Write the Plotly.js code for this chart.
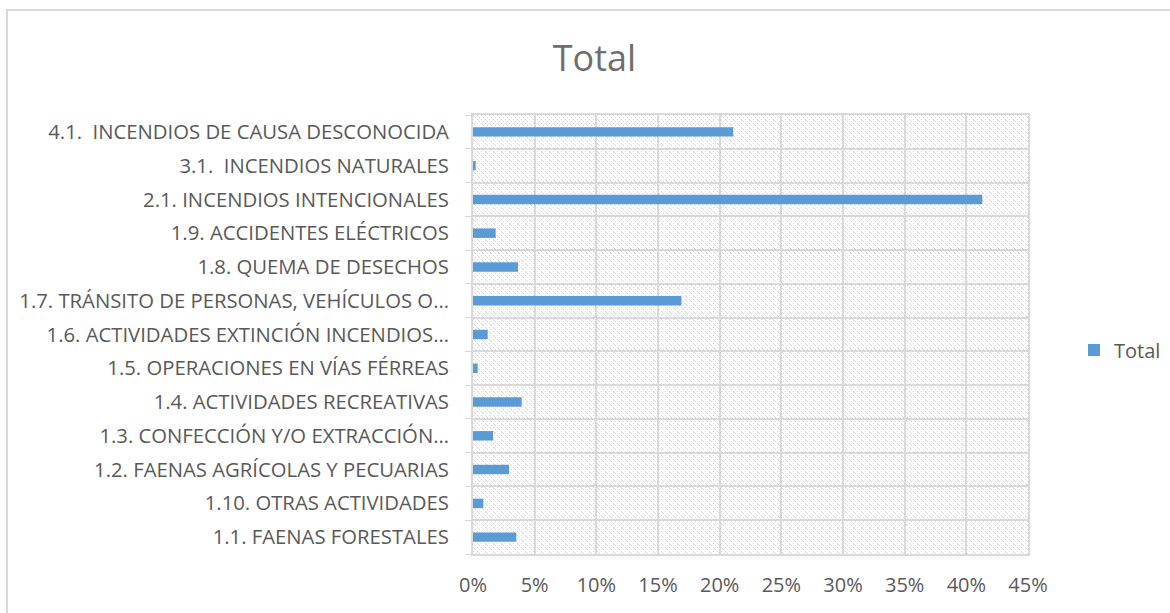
<!DOCTYPE html>
<html>
<head>
<meta charset="utf-8">
<script src="https://cdn.plot.ly/plotly-3.0.1.min.js"></script>
<style>
html,body{margin:0;padding:0;background:#fff;}
#wrap{position:relative;width:1170px;height:613px;overflow:hidden;}
#frame{position:absolute;left:6px;top:9px;width:1200px;height:700px;border-left:2px solid #d9d9d9;border-top:2px solid #d9d9d9;pointer-events:none;z-index:5;}
#chart{position:absolute;left:0;top:0;width:1170px;height:613px;}
</style>
</head>
<body>
<div id="wrap"><div id="chart"></div><div id="frame"></div></div>
<script>
// Categories listed bottom to top (as drawn)
var categories = [
  "1.1. FAENAS FORESTALES",
  "1.10. OTRAS ACTIVIDADES",
  "1.2. FAENAS AGRÍCOLAS Y PECUARIAS",
  "1.3. CONFECCIÓN Y/O EXTRACCIÓN…",
  "1.4. ACTIVIDADES RECREATIVAS",
  "1.5. OPERACIONES EN VÍAS FÉRREAS",
  "1.6. ACTIVIDADES EXTINCIÓN INCENDIOS…",
  "1.7. TRÁNSITO DE PERSONAS, VEHÍCULOS O…",
  "1.8. QUEMA DE DESECHOS",
  "1.9. ACCIDENTES ELÉCTRICOS",
  "2.1. INCENDIOS INTENCIONALES",
  "3.1.  INCENDIOS NATURALES",
  "4.1.  INCENDIOS DE CAUSA DESCONOCIDA"
];
var totalValues = [0.0351, 0.0084, 0.0292, 0.0162, 0.0395, 0.0038, 0.0119, 0.169, 0.0365, 0.0184, 0.413, 0.0022, 0.211];
var xTickVals = [0, 0.05, 0.10, 0.15, 0.20, 0.25, 0.30, 0.35, 0.40, 0.45];
var xTickText = ["0%", "5%", "10%", "15%", "20%", "25%", "30%", "35%", "40%", "45%"];

// hatch pattern background for plot area
var tile = '';
for (var i = 0; i < 8; i++) {
  if (i % 4 !== 3) tile += '<rect x="' + i + '" y="' + i + '" width="1" height="1" fill="#d6d6d6"/>';
  if (i % 2 === 0) tile += '<rect x="' + ((i + 4) % 8) + '" y="' + i + '" width="1" height="1" fill="#dedede"/>';
}
var svg = '<svg xmlns="http://www.w3.org/2000/svg" width="555" height="439" viewBox="0 0 555 439" preserveAspectRatio="none">' +
  '<defs><pattern id="p" width="8" height="8" patternUnits="userSpaceOnUse">' + tile + '</pattern></defs>' +
  '<rect width="555" height="439" fill="#ffffff"/><rect width="555" height="439" fill="url(#p)"/></svg>';
var bgSrc = 'data:image/svg+xml;charset=utf-8,' + encodeURIComponent(svg);

var font = '"Open Sans", "Liberation Sans", sans-serif';
var textColor = '#595959';

var trace = {
  type: 'bar',
  orientation: 'h',
  y: categories,
  x: totalValues,
  name: 'Total',
  marker: {color: '#5b9bd5'},
  showlegend: true
};

var layout = {
  width: 1170,
  height: 613,
  margin: {l: 473, r: 142, t: 115, b: 59, pad: 0},
  paper_bgcolor: '#ffffff',
  plot_bgcolor: 'rgba(0,0,0,0)',
  bargap: 0.72,
  title: {
    text: 'Total',
    font: {family: font, size: 36, color: '#6e6e6e'},
    x: 0.508, xref: 'container', xanchor: 'center',
    y: 1 - 58 / 613, yref: 'container', yanchor: 'middle'
  },
  font: {family: font, size: 20, color: textColor},
  xaxis: {
    range: [0, 0.45],
    tickvals: xTickVals,
    ticktext: xTickText,
    showgrid: true,
    gridcolor: '#d9d9d9',
    gridwidth: 2,
    zeroline: false,
    showline: true,
    linecolor: '#d9d9d9',
    linewidth: 2,
    mirror: true,
    ticks: '',
    ticklabelstandoff: 12,
    tickfont: {family: font, size: 20, color: textColor},
    fixedrange: true
  },
  yaxis: {
    type: 'category',
    categoryorder: 'array',
    categoryarray: categories,
    tickson: 'boundaries',
    ticks: 'outside',
    ticklen: 6,
    tickcolor: '#d9d9d9',
    tickwidth: 1,
    showgrid: true,
    gridcolor: '#d9d9d9',
    gridwidth: 2,
    showline: true,
    linecolor: '#d9d9d9',
    linewidth: 2,
    mirror: true,
    ticklabelstandoff: 18,
    tickfont: {family: font, size: 20.3, color: textColor},
    fixedrange: true
  },
  legend: {
    x: 1074 / 1170, xref: 'container', xanchor: 'left',
    y: 1 - 350 / 613, yref: 'container', yanchor: 'middle',
    font: {family: font, size: 20, color: textColor},
    itemwidth: 30,
    bgcolor: 'rgba(0,0,0,0)'
  },
  images: [{
    source: bgSrc,
    xref: 'paper', yref: 'paper',
    x: 0, y: 1, sizex: 1, sizey: 1,
    xanchor: 'left', yanchor: 'top',
    sizing: 'stretch',
    layer: 'below'
  }]
};

Plotly.newPlot('chart', [trace], layout, {displayModeBar: false, staticPlot: true});
</script>
</body>
</html>
